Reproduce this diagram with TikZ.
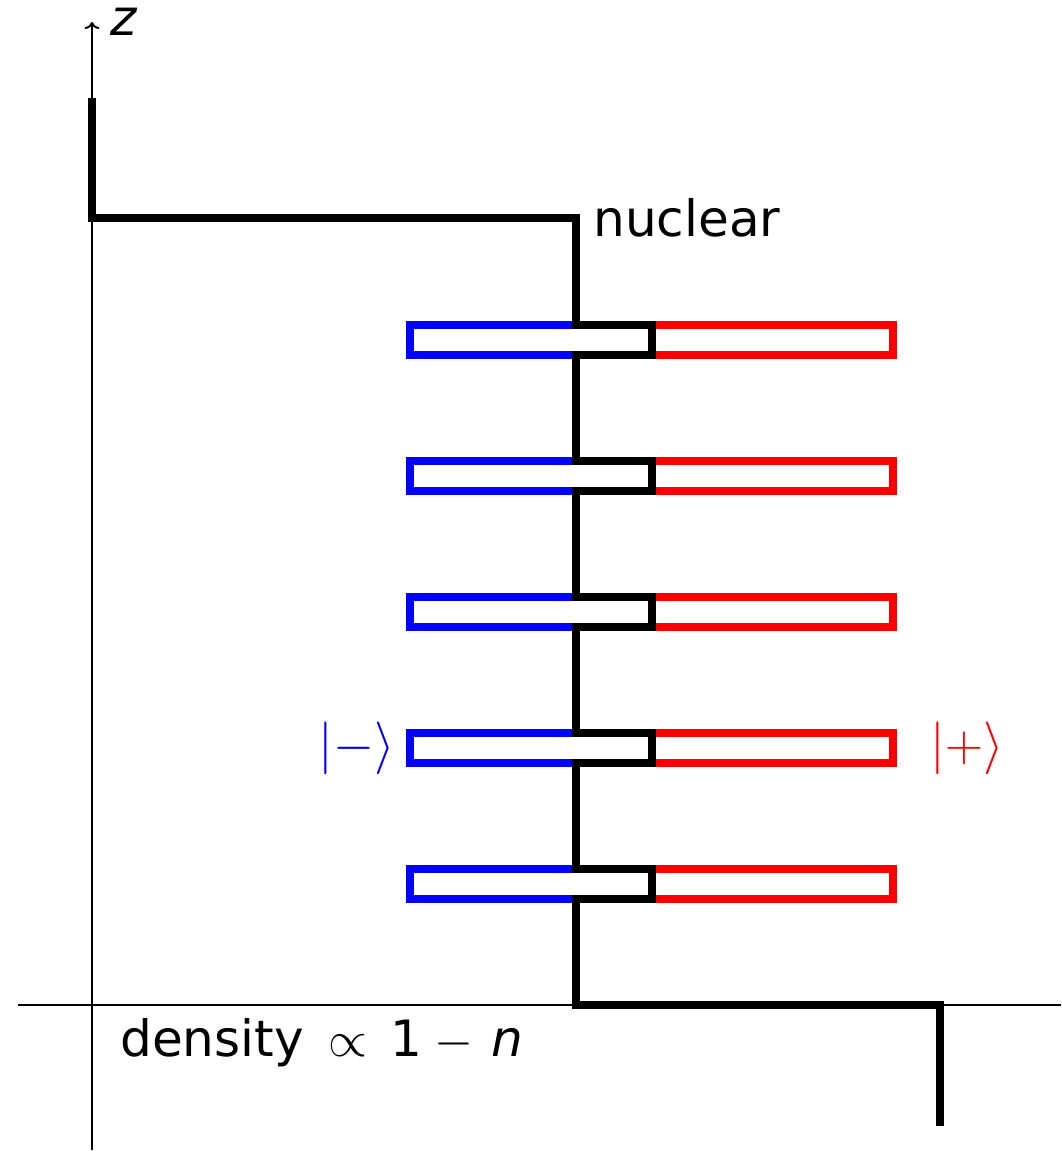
\RequirePackage{fix-cm}
\documentclass[tikz,border=0pt]{standalone}
\usepackage{fontspec}
\setmainfont{DejaVu Sans}
\usepackage{tikz}
\usetikzlibrary{arrows.meta}

\begin{document}
\begin{tikzpicture}[x=0.02cm, y=-0.02cm,
  axis/.style={line width=1.1pt},
  profile/.style={line width=4.5pt},
  minusbox/.style={draw=blue,line width=4.1pt},
  plusbox/.style={draw=red,line width=4.1pt},
  lbl/.style={inner sep=0pt,font=\fontsize{28.5}{34}\selectfont},
  ket/.style={inner sep=0pt,font=\fontsize{30}{36}\selectfont}]
\useasboundingbox (0,0) rectangle (1061,1151);
% axes
\coordinate (origin) at (92,1005);
\coordinate (ztop) at (92,22);
\coordinate (xleft) at (18,1005);
\coordinate (xright) at (1061,1005);
\draw[axis] (92,1150) -- (origin);
\draw[axis,->] (origin) -- (ztop);
\draw[axis] (xleft) -- (xright);
\node[lbl,anchor=base west] (zlabel) at (110,36) {\textit{z}};
% spin boxes
\foreach \y in {340,476,612,748,884}{
  \draw[minusbox] (576,\y-15) -- (410,\y-15) -- (410,\y+15) -- (576,\y+15);
  \draw[plusbox] (652,\y-15) -- (893,\y-15) -- (893,\y+15) -- (652,\y+15);
}
% density profile
\draw[profile] (92,98) -- (92,218) -- (576,218)
  \foreach \y in {340,476,612,748,884}{ -- (576,\y-15) -- (652,\y-15) -- (652,\y+15) -- (576,\y+15) }
  -- (576,1005) -- (940,1005) -- (940,1126);
\node[lbl,anchor=base west] (nuclear) at (593,237) {nuclear};
\node[lbl,anchor=base west] (density) at (120,1056)
  {density\hspace{0.5em}$\propto$\hspace{0.45em}1\hspace{0.25em}$-$\hspace{0.35em}\textit{n}};
\node[ket,text=blue] (minus) at (357,748) {$|-\rangle$};
\node[ket,text=red] (plus) at (967,748) {$|+\rangle$};
\end{tikzpicture}
\end{document}
